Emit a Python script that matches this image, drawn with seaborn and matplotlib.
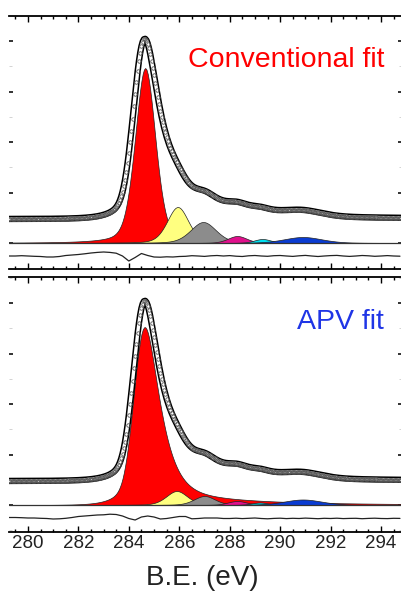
import numpy as np
import matplotlib
matplotlib.use("Agg")
import matplotlib.pyplot as plt
import seaborn as sns
from matplotlib.ticker import MultipleLocator

sns.set_style("white")
plt.rcParams['font.family'] = ['Liberation Sans', 'DejaVu Sans']

# binding energy scale of the scan (eV)
be = np.round(np.arange(279.25, 294.85, 0.05), 3)
res_be = np.round(np.arange(279.25, 294.76, 0.25), 3)

# component colours: C-C, green, yellow, grey, magenta, cyan, blue
comp_colors = ['#ff0000', '#2ca02c', '#ffff80', '#8c8c8c', '#e0108c', '#00e0f0', '#0a3cd2']

# conventional fit: position (eV), height, fwhm (eV), lorentz fraction
conv_pos = [284.65, 285.3, 285.94, 286.95, 288.3, 289.3, 290.9]
conv_height = [175, 2, 36, 21, 7, 4, 6]
conv_fwhm = [0.95, 0.9, 1.0, 1.2, 0.9, 0.8, 1.8]
conv_eta = [0.3, 0.3, 0.3, 0.3, 0.3, 0.3, 0.3]
conv_asym = [0, 0, 0, 0, 0, 0, 0]

# APV fit: same, plus asymmetry of the main peak
apv_pos = [284.63, 285.3, 285.9, 287.0, 288.3, 289.2, 290.9]
apv_height = [178, 0.5, 14, 9, 4, 2.5, 5.5]
apv_fwhm = [1.2, 0.9, 1.0, 1.0, 0.9, 0.8, 1.8]
apv_eta = [0.45, 0.3, 0.3, 0.3, 0.3, 0.3, 0.3]
apv_asym = [0.5, 0, 0, 0, 0, 0, 0]

# measured spectrum = APV components + broad loss hump, shifted up
hump_pos, hump_height, hump_fwhm = 287.6, 7, 3.8
env_offset = 24

# residuals (read every 0.25 eV)
conv_resid = [0, 0, 0.3, 0, -0.3, -0.5, -1, -1, -0.5, 0.5, 1, 1.5, 2.2, 3, 3.6, 4,
              3.6, 2.8, 0, -5, -1.5, 2.5, 0.5, -1, -1.2, -0.8, -1, -0.5, -0.3, 0.3,
              0, -0.4, 0.2, 0.5, 0, 0.4, -0.2, -0.5, 0.2, 0.5, 0, -0.3, 0.3, 0.5, 0,
              -0.4, 0.2, 0.6, 0, -0.5, 0, 0.4, 0.6, 0, -0.4, 0, 0.5, 0.2, -0.3, 0,
              0.4, 0, -0.2]
apv_resid = [0.5, 0.5, 0.3, 0, 0, -0.3, -0.5, -1, -0.8, -0.3, 0.5, 1.5, 2, 2.5, 3,
             3.2, 3.8, 3.5, 2, -0.5, -2, 1, 2, 1, -1, -0.5, 0.5, 1.5, 1.5, -0.8,
             -0.5, 0, 0, 0, -0.5, -0.5, -0.2, -0.6, -0.3, 0, -0.5, -0.8, -0.4, -0.2,
             -0.6, -0.3, -0.5, -0.1, -0.4, -0.7, -0.3, -0.5, -0.2, -0.6, -0.4, -0.3,
             -0.7, -0.4, -0.2, -0.5, -0.6, -0.3, -0.4]


def peak(x, pos, h, fwhm, eta, asym=0.0):
    d = x - pos
    w = 2 * fwhm / (1 + np.exp(-asym * d))
    g = np.exp(-4 * np.log(2) * (d / w) ** 2)
    lor = 1 / (1 + 4 * (d / w) ** 2)
    return h * (eta * lor + (1 - eta) * g)


def components(pos, height, fwhm, eta, asym):
    return [peak(be, p, h, f, e, a) for p, h, f, e, a in zip(pos, height, fwhm, eta, asym)]


apv_comps = components(apv_pos, apv_height, apv_fwhm, apv_eta, apv_asym)
conv_comps = components(conv_pos, conv_height, conv_fwhm, conv_eta, conv_asym)
spectrum = env_offset + np.sum(apv_comps, axis=0) + peak(be, hump_pos, hump_height, hump_fwhm, 0)


def draw_panel(ax, comps, resid, label, label_color):
    # draw order: red, yellow, green, grey, magenta, cyan, blue
    for i in [0, 2, 1, 3, 4, 5, 6]:
        ax.fill_between(be, 0, comps[i], facecolor=comp_colors[i], edgecolor='#222222',
                        linewidth=0.5, zorder=2 + i * 0.01)
    ax.axhline(0, color='#333333', lw=0.9, zorder=3)
    sns.lineplot(x=be, y=spectrum, ax=ax, color='black', lw=4.6, sort=False, estimator=None, zorder=4)
    sns.lineplot(x=be, y=spectrum, ax=ax, color='white', lw=2.4, sort=False, estimator=None, zorder=5)
    ax.plot(be, spectrum, ls='none', marker='o', ms=2.5, mfc='none', mec='#555555', mew=0.6, zorder=6)
    sns.lineplot(x=res_be, y=np.array(resid) - 13, ax=ax, color='#222222', lw=0.9,
                 sort=False, estimator=None, zorder=4)

    ax.set_xlim(279.25, 294.83)
    ax.set_ylim(-26, 227)
    ax.xaxis.set_major_locator(MultipleLocator(2))
    ax.xaxis.set_minor_locator(MultipleLocator(0.5))
    ax.yaxis.set_major_locator(MultipleLocator(50.5))
    ax.yaxis.set_minor_locator(MultipleLocator(25.25))
    ax.spines[['left', 'right']].set_visible(False)
    for s in ['top', 'bottom']:
        ax.spines[s].set_linewidth(1.3)
        ax.spines[s].set_color('black')
    ax.tick_params(axis='x', which='both', direction='in', top=True, bottom=True,
                   width=1.0, color='black')
    ax.tick_params(axis='x', which='major', length=4.5)
    ax.tick_params(axis='x', which='minor', length=2.2)
    ax.tick_params(axis='y', which='both', direction='in', left=True, right=True,
                   labelleft=False)
    ax.tick_params(axis='y', which='major', length=3.0, width=1.3, color='#222222')
    ax.tick_params(axis='y', which='minor', length=2.0, width=0.6, color='#cccccc')
    ax.set_xlabel('')
    ax.set_ylabel('')
    ax.text(0.955, 0.825, label, transform=ax.transAxes, ha='right', va='center',
            fontsize=20.5, color=label_color)


fig = plt.figure(figsize=(4.02, 5.92), dpi=100)
ax_top = fig.add_axes([9 / 402, 1 - 269 / 592, 393 / 402, 253 / 592])
ax_bot = fig.add_axes([9 / 402, 1 - 532 / 592, 393 / 402, 255 / 592])

draw_panel(ax_top, conv_comps, conv_resid, 'Conventional fit', '#ff0000')
draw_panel(ax_bot, apv_comps, apv_resid, 'APV fit', '#1f35e6')
ax_bot.set_ylim(-27, 228)

ax_top.tick_params(axis='x', labelbottom=False)
ax_bot.tick_params(axis='x', labelbottom=True, labelsize=13.5, pad=2, labelcolor='#222222')
fig.text(202 / 402, 1 - 578 / 592, 'B.E. (eV)', ha='center', va='center', fontsize=20,
         color='#222222')

fig.savefig('out.png', dpi=100)
